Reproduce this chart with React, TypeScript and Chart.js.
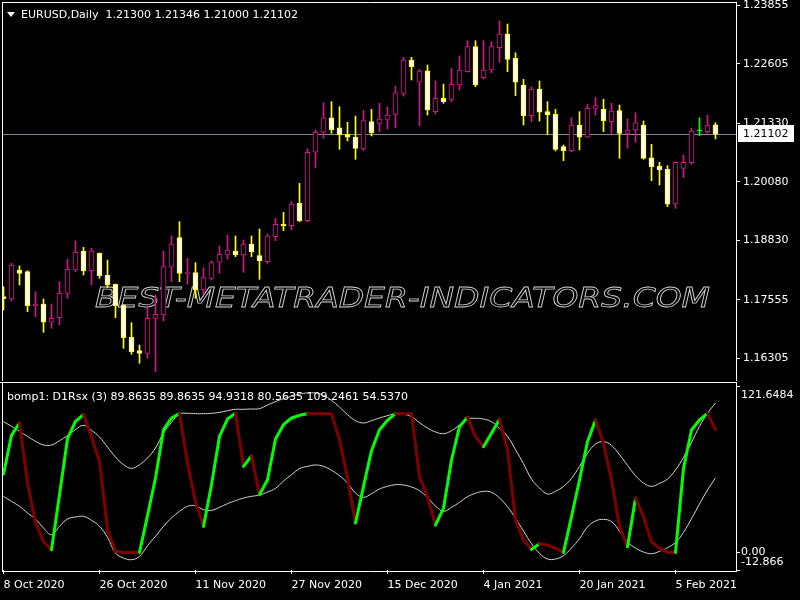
import React, { useEffect, useRef } from 'react';
import { Chart, registerables } from 'chart.js';

Chart.register(...registerables);

// ---------------- data ----------------
const dates = [
  '2020.10.08','2020.10.09','2020.10.12','2020.10.13','2020.10.14','2020.10.15','2020.10.16','2020.10.19','2020.10.20','2020.10.21',
  '2020.10.22','2020.10.23','2020.10.26','2020.10.27','2020.10.28','2020.10.29','2020.10.30','2020.11.02','2020.11.03','2020.11.04',
  '2020.11.05','2020.11.06','2020.11.09','2020.11.10','2020.11.11','2020.11.12','2020.11.13','2020.11.16','2020.11.17','2020.11.18',
  '2020.11.19','2020.11.20','2020.11.23','2020.11.24','2020.11.25','2020.11.26','2020.11.27','2020.11.30','2020.12.01','2020.12.02',
  '2020.12.03','2020.12.04','2020.12.07','2020.12.08','2020.12.09','2020.12.10','2020.12.11','2020.12.14','2020.12.15','2020.12.16',
  '2020.12.17','2020.12.18','2020.12.21','2020.12.22','2020.12.23','2020.12.24','2020.12.28','2020.12.29','2020.12.30','2020.12.31',
  '2021.01.04','2021.01.05','2021.01.06','2021.01.07','2021.01.08','2021.01.11','2021.01.12','2021.01.13','2021.01.14','2021.01.15',
  '2021.01.18','2021.01.19','2021.01.20','2021.01.21','2021.01.22','2021.01.25','2021.01.26','2021.01.27','2021.01.28','2021.01.29',
  '2021.02.01','2021.02.02','2021.02.03','2021.02.04','2021.02.05','2021.02.08','2021.02.09','2021.02.10','2021.02.11','2021.02.12',
];

const opens = [
  1.17624,1.17574,1.18195,1.18159,1.17425,1.17467,1.17076,1.17174,1.17696,1.18195,
  1.18602,1.18180,1.18552,1.18088,1.17889,1.17446,1.16755,1.16468,1.16412,1.17161,
  1.17232,1.18253,1.18886,1.18124,1.18137,1.17767,1.18017,1.18360,1.18516,1.18602,
  1.18516,1.18751,1.18501,1.18373,1.18908,1.19173,1.19143,1.19622,1.19250,1.20714,
  1.21142,1.21454,1.21240,1.21099,1.21035,1.20784,1.21369,1.21334,1.21420,1.21527,
  1.21976,1.22689,1.22212,1.22460,1.21583,1.21869,1.21848,1.22154,1.22439,1.22974,
  1.22310,1.22475,1.22952,1.23245,1.22725,1.22154,1.21497,1.22068,1.21583,1.21527,
  1.20834,1.20748,1.21298,1.21035,1.21655,1.21634,1.21369,1.21604,1.21120,1.21191,
  1.21298,1.20598,1.20421,1.20350,1.19607,1.20371,1.20491,1.21170,1.21155,1.21300,
];
const highs = [
  1.17838,1.18338,1.18281,1.18180,1.17731,1.17574,1.17467,1.17945,1.18424,1.18816,
  1.18681,1.18659,1.18560,1.18409,1.17895,1.17450,1.17067,1.16590,1.17410,1.17660,
  1.18602,1.18923,1.19229,1.18445,1.18351,1.18244,1.18388,1.18709,1.18944,1.18923,
  1.18837,1.18923,1.19072,1.18965,1.19301,1.19430,1.19657,1.20050,1.20784,1.21191,
  1.21775,1.21797,1.21690,1.21356,1.21491,1.21613,1.21634,1.21762,1.21690,1.22133,
  1.22747,1.22747,1.22490,1.22582,1.22240,1.22175,1.22511,1.22775,1.23102,1.23102,
  1.23102,1.23081,1.23524,1.23459,1.22845,1.22276,1.22118,1.22240,1.21797,1.21634,
  1.20870,1.21454,1.21583,1.21741,1.21891,1.21848,1.21762,1.21726,1.21426,1.21561,
  1.21384,1.20885,1.20500,1.20427,1.20510,1.20656,1.21227,1.21454,1.21512,1.21346,
];
const lows = [
  1.17339,1.17532,1.17874,1.17303,1.17196,1.16862,1.16947,1.17018,1.17589,1.18159,
  1.18088,1.17874,1.18017,1.17816,1.17174,1.16519,1.16391,1.16198,1.16305,1.16019,
  1.17104,1.17945,1.17945,1.17895,1.17589,1.17660,1.17981,1.18124,1.18430,1.18480,
  1.18146,1.18480,1.17996,1.18338,1.18822,1.19036,1.19051,1.19229,1.19229,1.20384,
  1.21013,1.21120,1.20778,1.20956,1.20564,1.20748,1.21063,1.21155,1.21212,1.21240,
  1.21919,1.22261,1.21283,1.21512,1.21533,1.21762,1.21797,1.22047,1.22430,1.22118,
  1.22282,1.22417,1.22640,1.22439,1.21925,1.21298,1.21369,1.21384,1.21099,1.20742,
  1.20534,1.20727,1.20763,1.21030,1.21512,1.21155,1.21084,1.20585,1.20799,1.20928,
  1.20564,1.20106,1.20014,1.19550,1.19515,1.20170,1.20457,1.21069,1.21120,1.21000,
];
const closes = [
  1.17581,1.18302,1.18124,1.17431,1.17467,1.17076,1.17161,1.17696,1.18210,1.18574,
  1.18174,1.18602,1.18073,1.17874,1.17431,1.16746,1.16447,1.16412,1.17161,1.17247,
  1.18266,1.18751,1.18124,1.18146,1.17767,1.18030,1.18351,1.18531,1.18623,1.18516,
  1.18751,1.18587,1.18388,1.18923,1.19173,1.19137,1.19607,1.19250,1.20714,1.21142,
  1.21454,1.21191,1.21084,1.21035,1.20799,1.21390,1.21133,1.21426,1.21512,1.21989,
  1.22689,1.22546,1.22454,1.21619,1.21869,1.21797,1.22169,1.22475,1.22974,1.22154,
  1.22475,1.22974,1.23245,1.22704,1.22212,1.21497,1.22068,1.21570,1.21512,1.20778,
  1.20748,1.21298,1.21035,1.21655,1.21711,1.21390,1.21598,1.21120,1.21191,1.21347,
  1.20585,1.20406,1.20335,1.19601,1.20500,1.20500,1.21170,1.21170,1.21298,1.21102,
];

const rsx = [
  57.31,85.58,94.60,50.73,21.97,7.60,1.99,42.20,83.14,95.81,
  100.69,84.36,66.57,16.61,0.77,0,0,0,26.85,54.39,
  89.72,98.25,101.42,65.35,37.08,19.05,49.51,84.85,97.52,101.66,
  62.91,70.47,42.20,53.17,82.90,93.38,98.25,100.20,101.42,101.42,
  101.42,101.42,82.41,54.39,21.49,48.29,74.37,89.72,96.55,101.42,
  101.42,101.42,55.36,40.74,20.02,32.21,67.55,91.92,98.74,84.60,
  77.29,87.04,97.28,74.86,23.68,9.06,2.23,6.38,5.40,2.96,
  0,26.12,52.92,80.95,96.79,79.73,52.92,18.81,4.18,39.52,
  26.12,7.84,2.96,0,0,61.45,89.48,96.79,101.66,89.8635,
];
const upperBand = [
  95.57,92.16,88.50,84.85,81.19,78.51,78.51,81.68,85.34,89.72,
  92.89,89.23,84.36,77.05,69.74,64.13,61.45,64.13,69.01,76.32,
  87.28,95.08,101.18,101.66,101.42,101.42,101.66,102.39,103.61,104.59,
  104.59,104.83,105.08,107.76,110.19,112.39,114.09,115.80,116.53,116.53,
  114.82,111.17,106.29,100.69,96.30,94.60,96.30,98.25,99.96,101.42,
  100.93,99.23,94.84,90.94,88.02,86.80,88.99,93.13,97.52,98.01,
  97.52,95.57,90.70,84.85,75.10,64.86,53.65,47.08,42.69,44.64,
  48.29,54.14,62.91,72.42,79.24,80.95,78.27,71.44,63.65,56.09,
  50.73,48.29,50.49,53.65,60.23,69.50,80.46,92.16,101.66,109.2461,
];
const lowerBand = [
  40.98,37.33,33.67,28.80,24.41,17.83,12.96,19.05,24.41,25.87,
  26.36,23.44,19.05,11.01,-0.45,-4.10,-5.32,-2.88,4.91,11.74,
  19.05,25.14,30.02,33.67,34.16,31.23,30.75,32.94,35.62,37.81,
  39.76,40.98,41.96,44.15,46.83,52.19,56.82,61.21,62.91,63.89,
  62.91,59.99,56.09,50.73,43.42,40.25,42.93,46.34,48.29,49.51,
  49.27,47.81,45.12,40.01,33.91,30.02,32.94,36.60,40.74,43.18,
  44.64,43.91,39.76,33.43,24.90,15.64,6.38,-0.69,-4.83,-4.83,
  -2.40,3.21,10.03,18.56,22.95,24.17,22.46,15.64,7.60,3.21,
  0.28,-0.93,0.77,3.45,7.35,14.66,24.65,35.38,45.61,54.537,
];

const priceTicks = [1.16305, 1.17555, 1.18830, 1.20080, 1.21330, 1.22605, 1.23855];
const priceMin = 1.15862;
const priceMax = 1.23909;
const dateTickIndex = [0, 12, 24, 36, 48, 60, 72, 84];
const dateTickLabels = ['8 Oct 2020', '26 Oct 2020', '11 Nov 2020', '27 Nov 2020', '15 Dec 2020', '4 Jan 2021', '20 Jan 2021', '5 Feb 2021'];
const rsxTicks = [121.6484, 0, -12.866];
const rsxTickLabels = ['121.6484', '0.00', '-12.866'];
const rsxMin = -12.866;
const rsxMax = 121.6484;

const titleText = 'EURUSD,Daily  1.21300 1.21346 1.21000 1.21102';
const rsxTitle = 'bomp1: D1Rsx (3) 89.8635 89.8635 94.9318 80.5635 109.2461 54.5370';
const watermark = 'BEST-METATRADER-INDICATORS.COM';

// ---------------- styles ----------------
const FONT = '11px "DejaVu Sans"';
const BULL = '#D01890';
const BEAR = '#FFFF00';
const DOJI = '#00FF00';
const RSX_UP = '#00FF00';
const RSX_DOWN = '#800000';
const BAND = '#d8d8d8';
const X_MIN = -0.1875;
const X_MAX = 91.5625;

Chart.defaults.font.family = '"DejaVu Sans"';
Chart.defaults.font.size = 11;
Chart.defaults.color = '#ffffff';

const candleColor = (i: number) =>
  closes[i] > opens[i] ? BULL : closes[i] < opens[i] ? BEAR : DOJI;
const candleFill = (i: number) =>
  closes[i] > opens[i] ? '#000000' : closes[i] < opens[i] ? '#FFFFFF' : DOJI;

const pricePlugin = {
  id: 'pricePanel',
  beforeDatasetsDraw(chart: any) {
    const { ctx, chartArea: a, scales } = chart;
    ctx.save();
    ctx.font = 'italic 27px "DejaVu Sans"';
    const w = ctx.measureText(watermark).width;
    ctx.translate(95, 307);
    ctx.scale(615 / w, 1);
    ctx.strokeStyle = '#d0d0d0';
    ctx.lineWidth = 0.8;
    ctx.textBaseline = 'alphabetic';
    ctx.strokeText(watermark, 0, 0);
    ctx.restore();

    const y = Math.round(scales.y.getPixelForValue(closes[closes.length - 1])) + 0.5;
    ctx.save();
    ctx.strokeStyle = '#7f8a96';
    ctx.lineWidth = 1;
    ctx.beginPath();
    ctx.moveTo(a.left, y);
    ctx.lineTo(a.right, y);
    ctx.stroke();
    ctx.restore();
  },
  afterDraw(chart: any) {
    const { ctx, scales, chartArea: a } = chart;
    ctx.save();
    ctx.strokeStyle = '#ffffff';
    ctx.lineWidth = 1;
    ctx.beginPath();
    ctx.moveTo(a.left, 2.5);
    ctx.lineTo(a.right + 1, 2.5);
    ctx.moveTo(2.5, 2);
    ctx.lineTo(2.5, chart.height);
    ctx.moveTo(a.right + 0.5, 2);
    ctx.lineTo(a.right + 0.5, chart.height);
    ctx.stroke();

    // title
    ctx.fillStyle = '#ffffff';
    ctx.beginPath();
    ctx.moveTo(7, 12);
    ctx.lineTo(15, 12);
    ctx.lineTo(11, 17);
    ctx.closePath();
    ctx.fill();
    ctx.font = FONT;
    ctx.textBaseline = 'middle';
    ctx.fillText(titleText, 21, 15);

    // last price box
    const last = closes[closes.length - 1];
    const y = Math.round(scales.y.getPixelForValue(last));
    ctx.fillStyle = '#ffffff';
    ctx.fillRect(738, y - 9, 56, 17);
    ctx.fillStyle = '#000000';
    ctx.fillText(last.toFixed(5), 743, y);
    ctx.restore();
  },
};

const rsxPlugin = {
  id: 'rsxPanel',
  afterDraw(chart: any) {
    const { ctx, scales, chartArea: a } = chart;
    ctx.save();
    ctx.strokeStyle = '#ffffff';
    ctx.lineWidth = 1;
    ctx.beginPath();
    ctx.moveTo(0, 1.5);
    ctx.lineTo(a.right + 1, 1.5);
    ctx.moveTo(2.5, 1);
    ctx.lineTo(2.5, a.bottom + 1.5);
    ctx.moveTo(2, a.bottom + 1.5);
    ctx.lineTo(a.right + 1, a.bottom + 1.5);
    ctx.moveTo(a.right + 0.5, 1);
    ctx.lineTo(a.right + 0.5, a.bottom + 1.5);
    ctx.stroke();

    ctx.fillStyle = '#ffffff';
    ctx.font = FONT;
    ctx.textBaseline = 'middle';
    ctx.fillText(rsxTitle, 7, 16.5);
    rsxTicks.forEach((v, k) => {
      const p = scales.y.getPixelForValue(v);
      const y = Math.min(Math.max(p, a.top + 9), a.bottom - 8);
      ctx.fillText(rsxTickLabels[k], 741, y);
    });
    ctx.restore();
  },
};

export default function App() {
  const topRef = useRef<HTMLCanvasElement>(null);
  const botRef = useRef<HTMLCanvasElement>(null);

  useEffect(() => {
    document.body.style.margin = '0';
    document.body.style.background = '#000';
    document.body.style.overflow = 'hidden';

    const bodies = dates.map((_, i) => ({ x: i, y: [Math.min(opens[i], closes[i]), Math.max(opens[i], closes[i])] }));
    const wicks = dates.map((_, i) => ({ x: i, y: [lows[i], highs[i]] }));
    const colors = dates.map((_, i) => candleColor(i));
    const fills = dates.map((_, i) => candleFill(i));

    const c1 = new Chart(topRef.current as HTMLCanvasElement, {
      type: 'bar',
      data: {
        datasets: [
          {
            label: 'body',
            order: 0,
            data: bodies as any,
            backgroundColor: fills,
            borderColor: colors,
            borderWidth: 1,
            borderSkipped: false,
            barThickness: 5,
            grouped: false,
            minBarLength: 1,
          } as any,
          {
            label: 'wick',
            order: 1,
            data: wicks as any,
            backgroundColor: colors,
            borderWidth: 0,
            barThickness: 1,
            grouped: false,
          } as any,
        ],
      },
      options: {
        animation: false,
        responsive: false,
        events: [],
        layout: { padding: { left: 2, top: 3, right: 0, bottom: 2 } },
        plugins: { legend: { display: false }, tooltip: { enabled: false } },
        scales: {
          x: { type: 'linear', min: X_MIN, max: X_MAX, offset: false, display: false },
          y: {
            position: 'right',
            min: priceMin,
            max: priceMax,
            afterBuildTicks: (s: any) => { s.ticks = priceTicks.map((v) => ({ value: v })); },
            afterFit: (s: any) => { s.width = 64; s.paddingTop = 0; s.paddingBottom = 0; },
            ticks: {
              color: '#ffffff',
              padding: 3,
              autoSkip: false,
              font: { family: '"DejaVu Sans"', size: 11 },
              callback: (v: any) => Number(v).toFixed(5),
            },
            grid: { drawOnChartArea: false, drawTicks: true, tickLength: 4, color: '#ffffff' },
            border: { display: true, color: '#ffffff' },
          },
        },
      } as any,
      plugins: [pricePlugin],
    });

    const c2 = new Chart(botRef.current as HTMLCanvasElement, {
      type: 'line',
      data: {
        datasets: [
          {
            label: 'RSX',
            order: 0,
            data: rsx.map((v, i) => ({ x: i, y: v })),
            borderColor: RSX_DOWN,
            borderWidth: 3,
            pointRadius: 0,
            tension: 0,
            borderJoinStyle: 'round',
            borderCapStyle: 'round',
            segment: {
              borderColor: (c: any) => (c.p1.parsed.y > c.p0.parsed.y ? RSX_UP : RSX_DOWN),
            },
          } as any,
          {
            label: 'upper',
            order: 1,
            data: upperBand.map((v, i) => ({ x: i, y: v })),
            borderColor: BAND,
            borderWidth: 1,
            pointRadius: 0,
            tension: 0.4,
          },
          {
            label: 'lower',
            order: 1,
            data: lowerBand.map((v, i) => ({ x: i, y: v })),
            borderColor: BAND,
            borderWidth: 1,
            pointRadius: 0,
            tension: 0.4,
          },
        ],
      },
      options: {
        animation: false,
        responsive: false,
        events: [],
        layout: { padding: { left: 2, top: 5, right: 0, bottom: 0 } },
        plugins: { legend: { display: false }, tooltip: { enabled: false } },
        scales: {
          x: {
            type: 'linear',
            min: X_MIN,
            max: X_MAX,
            offset: false,
            afterBuildTicks: (s: any) => { s.ticks = dateTickIndex.map((v) => ({ value: v })); },
            afterFit: (s: any) => { s.height = 30; s.paddingLeft = 0; s.paddingRight = 0; },
            ticks: {
              color: '#ffffff',
              align: 'start',
              padding: 5,
              autoSkip: false,
              maxRotation: 0,
              minRotation: 0,
              font: { family: '"DejaVu Sans"', size: 11 },
              callback: (v: any) => {
                const k = dateTickIndex.indexOf(Number(v));
                return k >= 0 ? dateTickLabels[k] : '';
              },
            },
            grid: { drawOnChartArea: false, drawTicks: true, tickLength: 4, color: '#ffffff' },
            border: { display: false },
          },
          y: {
            position: 'right',
            min: rsxMin,
            max: rsxMax,
            afterBuildTicks: (s: any) => { s.ticks = rsxTicks.map((v) => ({ value: v })); },
            afterFit: (s: any) => { s.width = 64; s.paddingTop = 0; s.paddingBottom = 0; },
            ticks: { display: false },
            grid: { drawOnChartArea: false, drawTicks: true, tickLength: 4, color: '#ffffff' },
            border: { display: false },
          },
        },
      } as any,
      plugins: [rsxPlugin],
    });

    return () => {
      c1.destroy();
      c2.destroy();
    };
  }, []);

  return (
    <div style={{ width: 800, height: 600, background: '#000', overflow: 'hidden' }}>
      <canvas ref={topRef} width={800} height={381} style={{ display: 'block' }} />
      <canvas ref={botRef} width={800} height={219} style={{ display: 'block' }} />
    </div>
  );
}
